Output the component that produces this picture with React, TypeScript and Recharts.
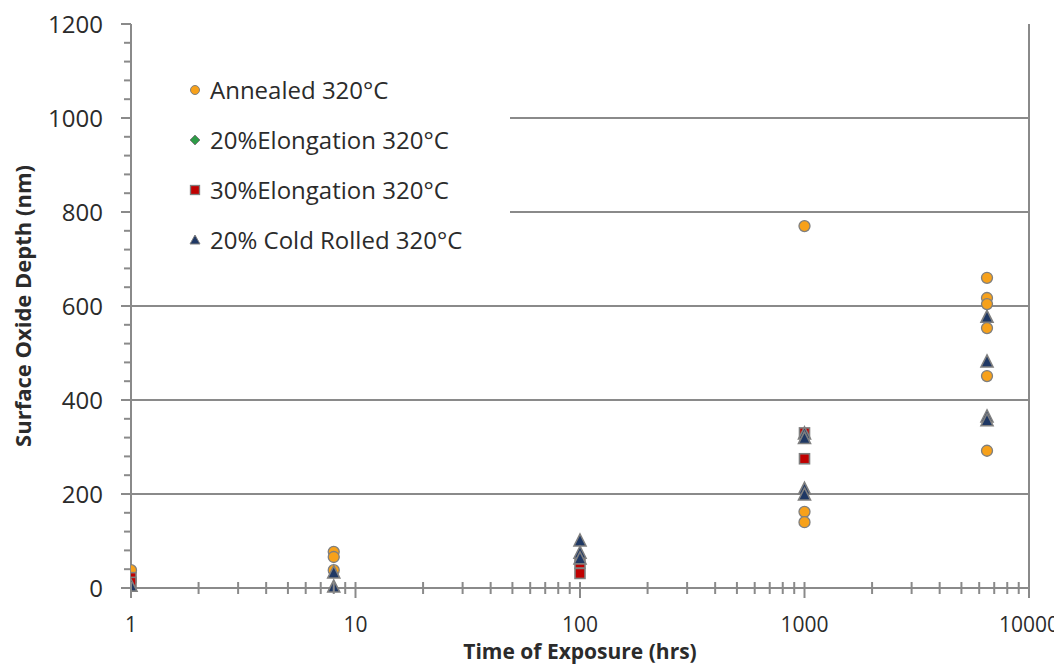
import React from 'react';
import { ScatterChart, Scatter, XAxis, YAxis, CartesianGrid, Legend } from 'recharts';

// ---- data (time of exposure in hrs, surface oxide depth in nm) ----
const annealed = [
  { t: 1, d: 38 },
  { t: 8, d: 77 },
  { t: 8, d: 66 },
  { t: 8, d: 38 },
  { t: 1000, d: 770 },
  { t: 1000, d: 162 },
  { t: 1000, d: 140 },
  { t: 6500, d: 660 },
  { t: 6500, d: 617 },
  { t: 6500, d: 604 },
  { t: 6500, d: 553 },
  { t: 6500, d: 451 },
  { t: 6500, d: 292 },
];
const elong20: { t: number; d: number }[] = [];
const elong30 = [
  { t: 1, d: 22 },
  { t: 1, d: 12 },
  { t: 100, d: 53 },
  { t: 100, d: 31 },
  { t: 1000, d: 330 },
  { t: 1000, d: 275 },
];
const coldRolled = [
  { t: 1, d: 4 },
  { t: 8, d: 32 },
  { t: 8, d: 2 },
  { t: 100, d: 100 },
  { t: 100, d: 74 },
  { t: 100, d: 62 },
  { t: 1000, d: 328 },
  { t: 1000, d: 318 },
  { t: 1000, d: 210 },
  { t: 1000, d: 198 },
  { t: 6500, d: 576 },
  { t: 6500, d: 481 },
  { t: 6500, d: 364 },
  { t: 6500, d: 356 },
];

const seriesNames = [
  'Annealed 320°C',
  '20%Elongation 320°C',
  '30%Elongation 320°C',
  '20% Cold Rolled 320°C',
];

const xTicks = [
  1, 2, 3, 4, 5, 6, 7, 8, 9,
  10, 20, 30, 40, 50, 60, 70, 80, 90,
  100, 200, 300, 400, 500, 600, 700, 800, 900,
  1000, 2000, 3000, 4000, 5000, 6000, 7000, 8000, 9000,
  10000,
];
const xLabels = [1, 10, 100, 1000, 10000];
const yTicks = [
  0, 40, 80, 120, 160, 200, 240, 280, 320, 360, 400, 440, 480, 520, 560, 600,
  640, 680, 720, 760, 800, 840, 880, 920, 960, 1000, 1040, 1080, 1120, 1160, 1200,
];
const yLabels = [0, 200, 400, 600, 800, 1000, 1200];
const gridValues = [200, 400, 600, 800, 1000];
const xDomain = [1, 10000];
const yDomain = [0, 1200];

// ---- styles ----
const FONT = '"Open Sans", "Noto Sans", sans-serif';
const AXIS = '#8a8a8a';
const TEXT = '#2b2b2b';
const ORANGE = '#F7A11A';
const GREEN = '#2E9B47';
const RED = '#C00000';
const NAVY = '#1F3864';
const BORDER = '#7f7f7f';

const CircleShape = (p: any) => (
  <circle cx={p.cx} cy={p.cy} r={5.5} fill={ORANGE} stroke={BORDER} strokeWidth={1.3} />
);
const DiamondShape = (p: any) => (
  <polygon
    points={`${p.cx},${p.cy - 6} ${p.cx + 6},${p.cy} ${p.cx},${p.cy + 6} ${p.cx - 6},${p.cy}`}
    fill={GREEN}
    stroke={BORDER}
    strokeWidth={1.3}
  />
);
const SquareShape = (p: any) => (
  <rect x={p.cx - 5} y={p.cy - 5} width={10} height={10} fill={RED} stroke={BORDER} strokeWidth={1.6} />
);
const TriangleShape = (p: any) => (
  <polygon
    points={`${p.cx},${p.cy - 7} ${p.cx + 6},${p.cy + 5} ${p.cx - 6},${p.cy + 5}`}
    fill={NAVY}
    stroke={BORDER}
    strokeWidth={1.6}
  />
);

const XTick = (props: any) => {
  const { x, y, payload } = props;
  const v = payload.value;
  const major = xLabels.includes(v);
  return (
    <g>
      <line x1={x} x2={x} y1={y - 6} y2={y + (major ? 10 : 6)} stroke={AXIS} strokeWidth={2} />
      {major && (
        <text x={x} y={y + 44} textAnchor="middle" fontSize={21} fill={TEXT} fontFamily={FONT}>
          {v}
        </text>
      )}
    </g>
  );
};

const YTick = (props: any) => {
  const { x, y, payload } = props;
  const v = payload.value;
  const major = yLabels.includes(v);
  return (
    <g>
      <line x1={x - (major ? 10 : 7)} x2={x} y1={y} y2={y} stroke={AXIS} strokeWidth={2} />
      {major && (
        <text x={x - 28} y={y + 8.5} textAnchor="end" fontSize={24} fill={TEXT} fontFamily={FONT}>
          {v}
        </text>
      )}
    </g>
  );
};

const legendMarkers = [
  (cx: number, cy: number) => <circle cx={cx} cy={cy} r={4.5} fill={ORANGE} stroke={BORDER} strokeWidth={1} />,
  (cx: number, cy: number) => (
    <polygon points={`${cx},${cy - 5} ${cx + 5},${cy} ${cx},${cy + 5} ${cx - 5},${cy}`} fill={GREEN} stroke={BORDER} strokeWidth={1} />
  ),
  (cx: number, cy: number) => (
    <rect x={cx - 4.5} y={cy - 4.5} width={9} height={9} fill={RED} stroke={BORDER} strokeWidth={1.3} />
  ),
  (cx: number, cy: number) => (
    <polygon points={`${cx},${cy - 5} ${cx + 5},${cy + 4} ${cx - 5},${cy + 4}`} fill={NAVY} stroke={BORDER} strokeWidth={1} />
  ),
];

const LegendBox = () => (
  <svg width={378} height={215} style={{ display: 'block' }}>
    {seriesNames.map((name, i) => {
      const cy = 35 + i * 50;
      return (
        <g key={name}>
          {legendMarkers[i](63, cy)}
          <text x={78} y={cy + 8.5} fontSize={24} fill={TEXT} fontFamily={FONT}>
            {name}
          </text>
        </g>
      );
    })}
  </svg>
);

export default function App() {
  return (
    <div style={{ width: 1054, height: 658 }}>
      <ScatterChart width={1054} height={658} margin={{ top: 16, right: 33, bottom: 0, left: 0 }}>
        <CartesianGrid
          horizontal
          vertical
          horizontalValues={gridValues}
          verticalValues={[xDomain[1]]}
          stroke={AXIS}
          strokeWidth={2}
        />
        <XAxis
          type="number"
          dataKey="t"
          scale="log"
          domain={xDomain}
          ticks={xTicks}
          interval={0}
          tickSize={0}
          tickMargin={0}
          tickLine={false}
          tick={<XTick />}
          axisLine={{ stroke: AXIS, strokeWidth: 2 }}
          height={78}
          allowDataOverflow
          label={{
            content: (lp: any) => {
              const vb = lp.viewBox;
              return (
                <text
                  x={vb.x + vb.width / 2}
                  y={vb.y + 71}
                  textAnchor="middle"
                  fontSize={21}
                  fontWeight="bold"
                  fill={TEXT}
                  fontFamily={FONT}
                >
                  Time of Exposure (hrs)
                </text>
              );
            },
          }}
        />
        <YAxis
          type="number"
          dataKey="d"
          domain={yDomain}
          ticks={yTicks}
          interval={0}
          tickSize={0}
          tickMargin={0}
          tickLine={false}
          tick={<YTick />}
          axisLine={{ stroke: AXIS, strokeWidth: 2 }}
          width={123}
          label={{
            content: (lp: any) => {
              const vb = lp.viewBox;
              const cx = vb.x + 14;
              const cy = vb.y + vb.height / 2;
              return (
                <text
                  x={cx}
                  y={cy}
                  transform={`rotate(-90, ${cx}, ${cy})`}
                  textAnchor="middle"
                  dominantBaseline="central"
                  fontSize={22}
                  fontWeight="bold"
                  fill={TEXT}
                  fontFamily={FONT}
                >
                  Surface Oxide Depth (nm)
                </text>
              );
            },
          }}
        />
        <Legend
          layout="vertical"
          align="center"
          verticalAlign="middle"
          wrapperStyle={{ left: 124, top: 47, width: 378, height: 215, background: '#fff' }}
          content={() => <LegendBox />}
        />
        <Scatter name={seriesNames[0]} data={annealed} shape={CircleShape} isAnimationActive={false} />
        <Scatter name={seriesNames[1]} data={elong20} shape={DiamondShape} isAnimationActive={false} />
        <Scatter name={seriesNames[2]} data={elong30} shape={SquareShape} isAnimationActive={false} />
        <Scatter name={seriesNames[3]} data={coldRolled} shape={TriangleShape} isAnimationActive={false} />
      </ScatterChart>
    </div>
  );
}
